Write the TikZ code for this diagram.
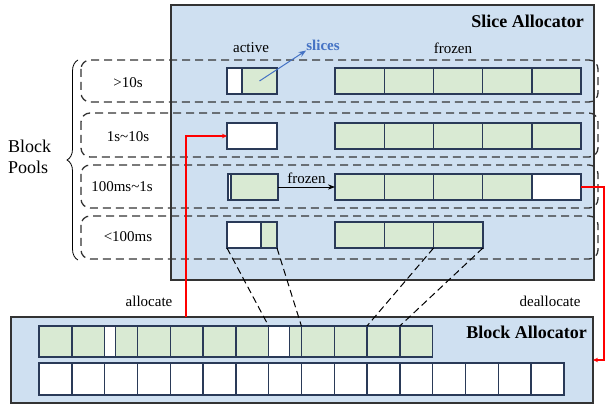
\documentclass[tikz,border=0pt]{standalone}
\usepackage{fontspec}
\setmainfont{Liberation Serif}
\usetikzlibrary{arrows.meta,calc,positioning,decorations.pathreplacing}
\definecolor{PanelBlue}{HTML}{CFE0F1}
\definecolor{SliceGreen}{HTML}{D9EAD3}
\definecolor{CellEdge}{HTML}{2A3A58}
\definecolor{FrameGray}{HTML}{333333}
\definecolor{SliceLabel}{HTML}{4472C4}

\begin{document}
\begin{tikzpicture}[x=1pt, y=-1pt, >=Stealth,
    cell/.style={draw=CellEdge, line width=1.4pt, fill=SliceGreen, minimum height=26pt, inner sep=0pt, outer sep=0pt, anchor=north west},
    free/.style={cell, fill=white},
    pool/.style={draw=FrameGray, dash pattern=on 8pt off 5pt, line width=1.3pt, rounded corners=9pt},
    panel/.style={draw=FrameGray, line width=1.3pt, fill=PanelBlue, inner sep=0pt, outer sep=0pt, anchor=north west},
    maplink/.style={dash pattern=on 7pt off 4pt, line width=1pt},
    alloc/.style={-{Stealth[length=5pt,width=4.5pt]}, red, line width=1.4pt},
    txt/.style={font=\fontsize{15}{18}\selectfont, inner sep=0pt},
    title/.style={font=\fontsize{18}{21}\selectfont\bfseries, inner sep=0pt}]

    \useasboundingbox (0,0) rectangle (606,406);

    % Slice allocator panel
    \node[panel, minimum width=423pt, minimum height=275pt] (slicepanel) at (171,5) {};
    \node[title, anchor=east] (slicetitle) at (584,21) {Slice Allocator};
    \node[txt] (activetag) at (251,48) {active};
    \node[txt] (frozentag) at (453,48) {frozen};
    \node[txt, font=\fontsize{15}{18}\selectfont\bfseries, text=SliceLabel] (slicetag) at (323,45) {slices};

    % Block pools (dashed rows)
    \draw[pool] (81,60) rectangle (598,102);
    \draw[pool] (81,113) rectangle (598,157);
    \draw[pool] (81,165) rectangle (598,208);
    \draw[pool] (81,216) rectangle (598,259);
    \node[txt] (pool1) at (128,83) {>10s};
    \node[txt] (pool2) at (128,137) {1s\textasciitilde 10s};
    \node[txt] (pool3) at (122,187) {100ms\textasciitilde 1s};
    \node[txt] (pool4) at (128,237) {<100ms};

    % Brace and its label
    \draw[decorate, decoration={brace, amplitude=11pt}, line width=0.8pt] (78,260) -- (78,60);
    \node[font=\fontsize{18}{21}\selectfont, align=left, inner sep=0pt, anchor=west] (pooltag) at (8,157) {Block\\Pools};

    % Active slices
    \node[free, minimum width=15pt] (a1w) at (227,68) {};
    \node[cell, minimum width=35pt] (a1g) at (a1w.north east) {};
    \node[free, minimum width=50pt] (a2) at (227,123) {};
    \node[free, minimum width=3pt] (a3w) at (228,174) {};
    \node[cell, minimum width=47pt] (a3g) at (a3w.north east) {};
    \node[free, minimum width=34pt] (a4w) at (227,222) {};
    \node[cell, minimum width=16pt] (a4g) at (a4w.north east) {};

    % Frozen slices
    \foreach \r/\y in {1/68, 2/123, 3/174}
        \foreach \i in {1,...,5}
            \node[cell, minimum width=49.2pt] (f\r-\i) at ({335+(\i-1)*49.2},\y) {};
    \node[free, minimum width=49.2pt] (f3-5) at (f3-4.north east) {};
    \foreach \i in {1,2,3}
        \node[cell, minimum width=49.3pt] (f4-\i) at ({335+(\i-1)*49.3},222) {};

    \draw[->, SliceLabel, line width=1pt] (a1g.center) -- (slicetag.south west);
    \draw[->, line width=0.9pt] (a3g.east) -- (f3-1.west) node[midway, above=3pt, txt] (frozenstep) {frozen};

    % Block allocator panel
    \node[panel, minimum width=582pt, minimum height=86pt] (blockpanel) at (11,317) {};
    \node[title, anchor=east] (blocktitle) at (587,332) {Block Allocator};
    \foreach \i in {1,...,12}
        \node[cell, minimum width=32.8pt, minimum height=31pt] (b\i) at ({39+(\i-1)*32.8},326) {};
    \node[free, minimum width=11pt, minimum height=31pt] (b3w) at (b3.north west) {};
    \node[free, minimum width=21pt, minimum height=31pt] (b8w) at (b8.north west) {};
    \foreach \i in {1,...,16}
        \node[free, minimum width=32.8pt, minimum height=32pt] (w\i) at ({39+(\i-1)*32.8},363) {};

    % Slices mapped onto blocks
    \draw[maplink] (a4w.south west) -- (b8.north west);
    \draw[maplink] (a4g.south east) -- (b8.north east);
    \draw[maplink] (f4-3.south west) -- (b11.north west);
    \draw[maplink] (f4-3.south east) -- (b11.north east);

    % Allocate / deallocate
    \coordinate (allocx) at (186,300);
    \draw[alloc] (allocx |- blockpanel.north) |- (a2.west);
    \node[txt] (alloctag) at (149,301) {allocate};
    \draw[alloc] (f3-5.east) -- ++(23,0) |- (blockpanel.east);
    \node[txt] (dealloctag) at (550,301) {deallocate};

\end{tikzpicture}
\end{document}
